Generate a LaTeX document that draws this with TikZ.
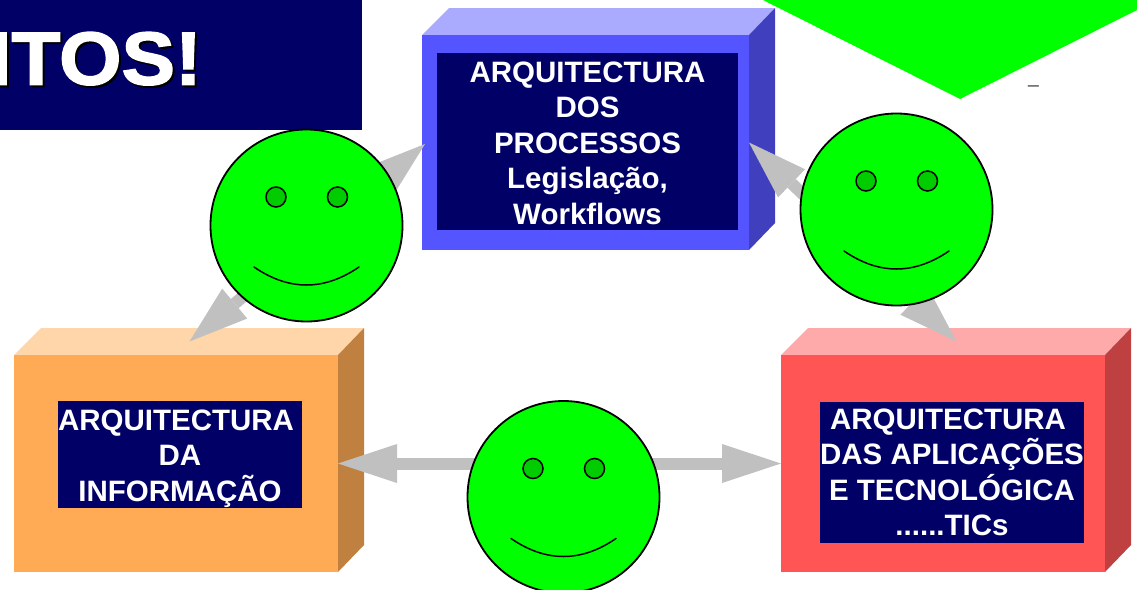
\documentclass[tikz,border=0pt]{standalone}
\usepackage{fontspec}
\setmainfont{Liberation Sans}
\newfontfamily\titlefont[BoldFeatures={FakeBold=2,FakeStretch=1.07}]{Liberation Sans}
\usetikzlibrary{arrows.meta}
\definecolor{navy}{HTML}{000066}
\definecolor{bargray}{HTML}{C0C0C0}
\definecolor{lime}{HTML}{00FF00}
\definecolor{eyegreen}{HTML}{00CC00}
\definecolor{bluefront}{HTML}{5555FF}
\definecolor{bluetop}{HTML}{AAAAFF}
\definecolor{blueside}{HTML}{4040BF}
\definecolor{orangefront}{HTML}{FFAA55}
\definecolor{orangetop}{HTML}{FFD5AA}
\definecolor{orangeside}{HTML}{BF8040}
\definecolor{redfront}{HTML}{FF5555}
\definecolor{redtop}{HTML}{FFAAAA}
\definecolor{redside}{HTML}{BF4040}
\tikzset{
  x=1pt,y=-1pt,
  front/.style={fill=#1,draw=none,inner sep=0pt,outer sep=0pt},
  panel/.style={fill=navy,inner sep=0pt,outer sep=0pt},
  paneltext/.style={text=white,inner sep=0pt,outer sep=0pt,align=center,
    font=\fontsize{29.5}{35.5}\selectfont\bfseries},
  bar/.style={draw=bargray,line width=12pt,
    {Triangle[length=59pt,width=39pt,line width=0pt,fill=bargray]}-{Triangle[length=59pt,width=39pt,line width=0pt,fill=bargray]}},
  facecircle/.style={circle,fill=lime,draw=black,line width=1.8pt,minimum size=192pt,inner sep=0pt},
  eye/.style={circle,fill=eyegreen,draw=black,line width=1.5pt,minimum size=20pt,inner sep=0pt},
  smile/.style={draw=black,line width=1.5pt,line cap=round},
  titletext/.style={anchor=base east,inner sep=0pt,font=\fontsize{75}{75}\selectfont\titlefont\bfseries},
}
% #1 name, #2 x0, #3 y0, #4 x1, #5 y1, #6 front, #7 top, #8 side
\newcommand{\cuboid}[8]{%
  \fill[#7] (#2,#3) -- (#2+27,#3-27) -- (#4+26,#3-27) -- (#4,#3) -- cycle;
  \fill[#8] (#4,#3) -- (#4+26,#3-27) -- (#4+26,#5-27) -- (#4,#5) -- cycle;
  \node[front=#6,minimum width=#4pt-#2pt,minimum height=#5pt-#3pt] (#1) at ({(#2+#4)/2},{(#3+#5)/2}) {};
  \coordinate (#1top) at ({(#2+#4)/2+13.5},{#3-13.5});
}
% #1 name, #2 x, #3 y
\newcommand{\smiley}[3]{%
  \begin{scope}[shift={(#2,#3)}]
    \node[facecircle] (#1) at (0,0) {};
    \node[eye] (#1eyeL) at (-30.5,-28.5) {};
    \node[eye] (#1eyeR) at (31,-28.5) {};
    \draw[smile] (-52.5,41.5) .. controls (-17.5,65.5) and (17.5,65.5) .. (52.5,41.5);
  \end{scope}
}
\begin{document}
\begin{tikzpicture}
\useasboundingbox (0,0) rectangle (1137,589);
\begin{scope}
\clip (0,0) rectangle (1137,589);
% title banner
\node[fill=navy,minimum width=372pt,minimum height=140pt,inner sep=0pt,outer sep=0pt] (banner) at (176,60) {};
\node[titletext,text=black] (titleshadow) at (204,86.5) {NTOS!};
\node[titletext,text=white] (title) at (202,84.5) {NTOS!};
% green pointer
\fill[lime] (763,0) -- (960,99) -- (1137,10) -- (1137,0) -- cycle;
\node[anchor=base,inner sep=0pt,text=black!70,font=\fontsize{20}{20}\selectfont] (dash) at (1033.5,91.5) {–};
% boxes
\cuboid{proc}{422}{35}{749}{250}{bluefront}{bluetop}{blueside}
\cuboid{info}{14}{355}{338}{572}{orangefront}{orangetop}{orangeside}
\cuboid{apps}{781}{355}{1105}{572}{redfront}{redtop}{redside}
% panels
\node[panel,minimum width=301pt,minimum height=177pt] (procpanel) at (587.5,141.5) {};
\node[paneltext] (proctext) at (587.5,143)
  {ARQUITECTURA\\DOS\\PROCESSOS\\Legislação,\\Workflows};
\node[panel,minimum width=244pt,minimum height=107pt] (infopanel) at (180,454.5) {};
\node[paneltext] (infotext) at (180,458.5)
  {ARQUITECTURA\hspace*{8pt}\\DA\\INFORMAÇÃO};
\node[panel,minimum width=264pt,minimum height=141pt] (appspanel) at (952,472.5) {};
\node[paneltext] (appstext) at (952,472.5)
  {ARQUITECTURA\hspace*{8pt}\\DAS APLICAÇÕES\\E TECNOLÓGICA\\......TICs};
% connectors
\draw[bar] ([shift={(3pt,-1.5pt)}]proc.west) -- (infotop);
\draw[bar] (proc.east) -- (appstop);
\draw[bar] (info.east) -- (apps.west);
% faces
\smiley{faceA}{306.5}{225.5}
\smiley{faceB}{896.5}{209.5}
\smiley{faceC}{563.5}{497}
\end{scope}
\end{tikzpicture}
\end{document}
